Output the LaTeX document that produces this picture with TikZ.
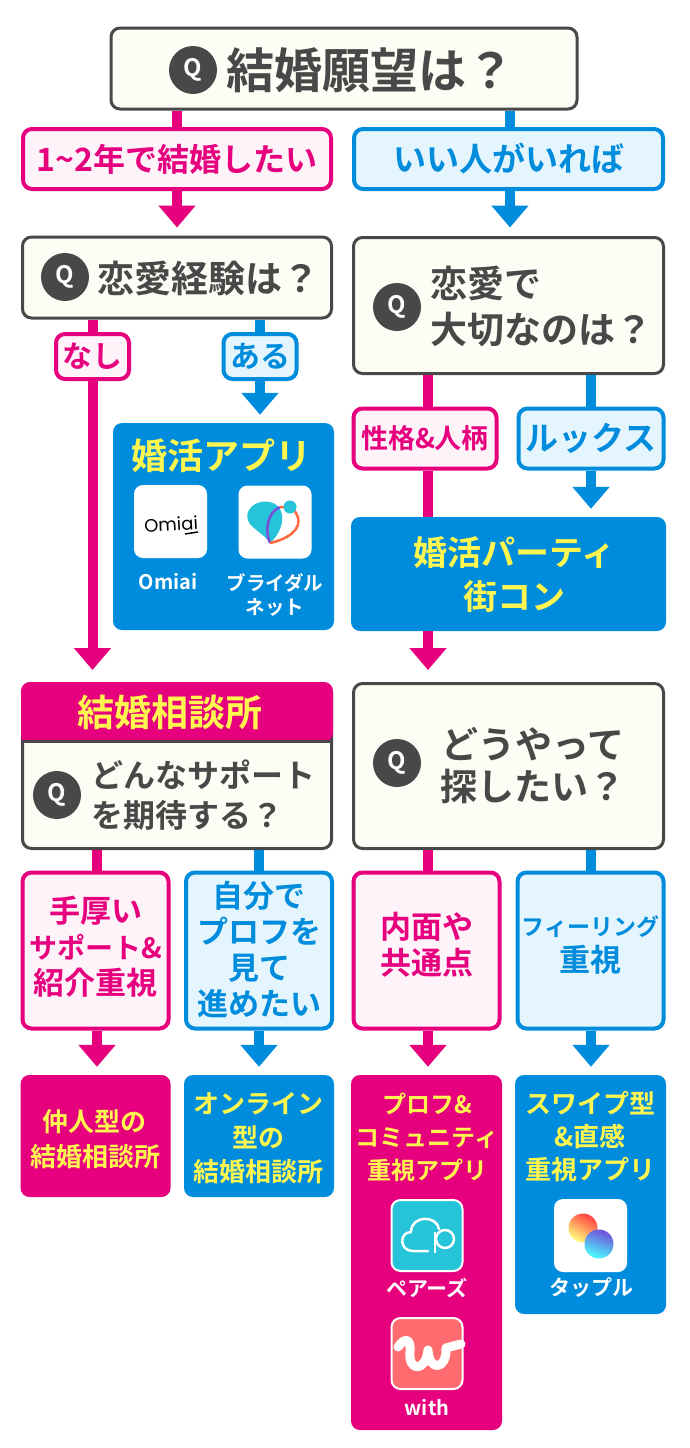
\documentclass[tikz,border=0pt]{standalone}
\usepackage{fontspec}
\setmainfont{Noto Sans CJK JP}[BoldFont=* Bold]
\newfontfamily\logofont{Poppins}
\usetikzlibrary{arrows.meta,positioning}
\definecolor{dark}{HTML}{484848}
\definecolor{cream}{HTML}{FDFDF5}
\definecolor{pinkc}{HTML}{E6007E}
\definecolor{pinkp}{HTML}{FFF3FA}
\definecolor{bluec}{HTML}{008CDC}
\definecolor{bluep}{HTML}{E5F5FE}
\definecolor{yellowc}{HTML}{FFF650}
\definecolor{cyanc}{HTML}{25C4D8}
\definecolor{coralc}{HTML}{FF6B6E}
\definecolor{orangec}{HTML}{FF6A3D}
\definecolor{violetc}{HTML}{7A4FD8}
\newcommand{\fsz}[2]{\fontsize{#1}{#2}\selectfont\bfseries}
\tikzset{
  rbox/.style={rectangle, rounded corners=9, inner sep=0, align=center},
  qbox/.style={rbox, draw=dark, line width=3, fill=cream, text=dark},
  pinkbox/.style={rbox, draw=pinkc, line width=4, fill=pinkp, text=pinkc},
  bluebox/.style={rbox, draw=bluec, line width=4, fill=bluep, text=bluec},
  pinkfill/.style={rbox, fill=pinkc, text=yellowc},
  bluefill/.style={rbox, fill=bluec, text=yellowc},
  badge/.style={circle, fill=dark, text=white, inner sep=0, minimum size=48, font=\fsz{24}{24}},
  qtext/.style={text=dark, inner sep=0, align=left},
  ctext/.style={inner sep=0, align=center},
  apptext/.style={text=white, inner sep=0, align=center, font=\fsz{20}{24}},
  icon/.style={rectangle, rounded corners=9, fill=white, inner sep=0, minimum size=73},
  pinkline/.style={draw=pinkc, line width=10},
  blueline/.style={draw=bluec, line width=10},
  head/.style={-{Triangle[length=22,width=36]}, shorten >=8},
  longhead/.style={-{Triangle[length=22,width=36]}, shorten >=12},
}
\begin{document}
\begin{tikzpicture}[x=1pt, y=-1pt]
\useasboundingbox (0,0) rectangle (690,1448);
% top question and first answers
\node[qbox, minimum width=466, minimum height=81] (title) at (344,68.5){};
\node[badge] (qtitle) at (193,70){Q};
\node[qtext, font=\fsz{48}{48}] (ttitle) at (370,70){結婚願望は？};
\node[pinkbox, minimum width=308, minimum height=60, font=\fsz{32}{32}] (want) at (177,159){1\textasciitilde2年で結婚したい};
\node[bluebox, minimum width=309, minimum height=60, font=\fsz{33}{33}] (good) at (508.5,159){いい人がいれば};
\draw[pinkline] (title.south -| want.north) -- (want.north);
\draw[blueline] (title.south -| 510,0) -- (good.north -| 510,0);
% left branch, experience
\node[qbox, minimum width=309, minimum height=81] (exp) at (177,277.5){};
\node[badge] (qexp) at (65,277){Q};
\node[qtext, font=\fsz{37}{37}] (texp) at (208,278){恋愛経験は？};
\draw[pinkline, head] (want.south) -- (exp.north);
\draw[blueline, head] (good.south -| 510,0) -- (exp.north -| 510,0);
\node[pinkbox, minimum width=73, minimum height=45, font=\fsz{30}{30}] (none) at (92.5,356.5){なし};
\node[bluebox, minimum width=73, minimum height=45, font=\fsz{30}{30}] (some) at (260,356.5){ある};
\draw[pinkline] (exp.south -| none.north) -- (none.north);
\draw[blueline] (exp.south -| some.north) -- (some.north);
\node[bluefill, minimum width=221, minimum height=207] (appbox) at (223.5,526.5){};
\node[ctext, text=yellowc, font=\fsz{36}{36}] (apptitle) at (221,456){婚活アプリ};
\draw[blueline, head] (some.south) -- (appbox.north -| some.south);
% omiai and bridal icons
\node[icon] (omiai) at (170.5,521.5){};
\node[inner sep=0, rotate=3, text=black, font=\logofont\fontsize{18}{18}\selectfont] (omiailogo) at (171,524){Omiai};
\draw[black, line width=1.5] (185,534) -- (198,532);
\node[icon] (bridal) at (275,522){};
\path[fill=cyanc] (270,543) .. controls (262,530) and (241,526) .. (249,510) .. controls (255,499) and (276,498) .. (281,511) .. controls (285,522) and (279,535) .. (270,543);
\draw[violetc, line width=2.5] (270,543) .. controls (264,530) and (268,512) .. (280,507);
\draw[orangec, line width=2.5] (270,543) .. controls (285,540) and (304,530) .. (297,515) .. controls (295,511) and (293,509) .. (290,507) -- (280,507);
\node[circle, fill=cyanc, inner sep=0, minimum size=13] (bridaldot) at (290,507){};
\node[apptext] (omiaiapp) at (168,582){Omiai};
\node[apptext, font=\fsz{19.5}{24}] (bridalapp) at (275,595){ブライダル\\ネット};
% right branch, what matters
\node[qbox, minimum width=310, minimum height=136] (matter) at (508.5,305.5){};
\node[badge] (qmatter) at (397,307){Q};
\node[qtext, font=\fsz{37}{46}] (tmatter) at (541,307){恋愛で\\大切なのは？};
\node[pinkbox, minimum width=143, minimum height=60, font=\fsz{27}{27}] (nature) at (425,438.5){性格\&人柄};
\node[bluebox, minimum width=145, minimum height=60, font=\fsz{33}{33}] (looks) at (591,438.5){ルックス};
\draw[pinkline] (matter.south -| 428,0) -- (nature.north -| 428,0);
\draw[blueline] (matter.south -| looks.north) -- (looks.north);
\node[bluefill, minimum width=315, minimum height=114] (party) at (508.5,574){};
\node[ctext, text=yellowc, font=\fsz{34}{44}] (tparty) at (514,575){婚活パーティ\\街コン};
\draw[pinkline] (nature.south -| 428,0) -- (party.north -| 428,0);
\draw[blueline, head] (looks.south) -- (party.north -| looks.south);
% second questions
\node[qbox, minimum width=309, minimum height=165] (agency) at (177,766){};
\path[fill=pinkc, rounded corners=9] (21,742) -- (21,682) -- (333,682) -- (333,742) [sharp corners] -- cycle;
\draw[draw=dark, line width=3] (agency.west |- 0,741) -- (agency.east |- 0,741);
\node[ctext, text=yellowc, font=\fsz{37}{37}] (tagency) at (170,712){結婚相談所};
\node[badge] (qagency) at (57,795){Q};
\node[qtext, font=\fsz{32}{40}] (thelp) at (203,795){どんなサポート\\を期待する？};
\draw[pinkline, longhead] (none.south) -- (none.south |- agency.north);
\node[qbox, minimum width=310, minimum height=165] (search) at (508.5,766){};
\node[badge] (qsearch) at (397,763){Q};
\node[ctext, text=dark, font=\fsz{37}{42}] (tsearch) at (533,766){どうやって\\探したい？};
\draw[pinkline, longhead] (party.south -| 428,0) -- (search.north -| 428,0);
% third answers
\node[pinkbox, minimum width=146, minimum height=156] (thick) at (95.5,950.5){};
\node[ctext, text=pinkc, font=\fsz{31}{36}] (tthick) at (95.5,947){手厚い\\{\fsz{28}{36}サポート\&}\\紹介重視};
\node[bluebox, minimum width=146, minimum height=156] (self) at (259,950.5){};
\node[ctext, text=bluec, font=\fsz{31}{36}] (tself) at (259,949.5){自分で\\プロフを\\見て\\進めたい};
\node[pinkbox, minimum width=146, minimum height=156] (inner) at (426.5,950.5){};
\node[ctext, text=pinkc, font=\fsz{31}{36}] (tinner) at (426.5,944.5){内面や\\共通点};
\node[bluebox, minimum width=146, minimum height=156] (feel) at (590.5,950.5){};
\node[ctext, text=bluec, font=\fsz{31}{36}] (tfeel) at (590.5,945){{\fsz{23}{36}フィーリング}\\重視};
\draw[pinkline] (agency.south -| 97,0) -- (thick.north -| 97,0);
\draw[blueline] (agency.south -| self.north) -- (self.north);
\draw[pinkline] (search.south -| 428,0) -- (inner.north -| 428,0);
\draw[blueline] (search.south -| 591,0) -- (feel.north -| 591,0);
% results
\node[pinkfill, minimum width=150, minimum height=122] (nakodo) at (95.5,1136){};
\node[ctext, text=yellowc, font=\fsz{26}{35}] (tnakodo) at (95,1139){仲人型の\\結婚相談所};
\node[bluefill, minimum width=150, minimum height=122] (online) at (259,1136){};
\node[ctext, text=yellowc, font=\fsz{26}{34}] (tonline) at (258.5,1138){オンライン\\型の\\結婚相談所};
\node[pinkfill, minimum width=151, minimum height=355] (profapp) at (426.5,1252.5){};
\node[bluefill, minimum width=151, minimum height=239] (swipe) at (590.5,1194.5){};
\draw[pinkline, head] (thick.south -| 97,0) -- (nakodo.north -| 97,0);
\draw[blueline, head] (self.south) -- (online.north -| self.south);
\draw[pinkline, head] (inner.south -| 428,0) -- (profapp.north -| 428,0);
\draw[blueline, head] (feel.south -| 591,0) -- (swipe.north -| 591,0);
\node[ctext, text=yellowc, font=\fsz{24}{33}] (tprof) at (427,1137){プロフ\&\\コミュニティ\\重視アプリ};
\node[ctext, text=yellowc, font=\fsz{26}{33}] (tswipe) at (590,1137){スワイプ型\\\&直感\\重視アプリ};
% pairs, with, tapple icons
\node[icon, draw=white, line width=2, fill=cyanc, minimum size=71] (pairs) at (427,1235.5){};
\draw[white, line width=2.5, line cap=round, line join=round] (428,1251) -- (413,1251) .. controls (399,1251) and (399,1232) .. (411,1232) .. controls (411,1215) and (437,1215) .. (439,1229);
\node[circle, draw=white, line width=2.5, inner sep=0, minimum size=18] (pairsp) at (445,1239){};
\draw[white, line width=2.5] (pairsp.west) ++(0,-7) -- ++(0,21);
\node[apptext, font=\fsz{21}{24}] (pairsapp) at (427,1288){ペアーズ};
\node[icon, draw=white, line width=2, fill=coralc, minimum size=71] (withicon) at (427,1353.5){};
\draw[white, line width=9, line cap=round, line join=round] (398,1347) .. controls (405,1337) and (411,1338) .. (410,1352) .. controls (408,1372) and (426,1372) .. (428,1350) .. controls (429,1372) and (447,1370) .. (446,1348) -- (461,1344);
\node[apptext] (withapp) at (427,1408){with};
\node[icon] (tapple) at (590.5,1235.5){};
\shade[top color=red!75!white, bottom color=yellow!50!white, shading angle=-30] (583,1228) circle (14.5);
\shade[top color=blue!60!violet!70!white, bottom color=cyan!70!white, shading angle=-20] (599,1244) circle (14.5);
\node[apptext, font=\fsz{21}{24}] (tappleapp) at (591,1288){タップル};
\end{tikzpicture}
\end{document}
